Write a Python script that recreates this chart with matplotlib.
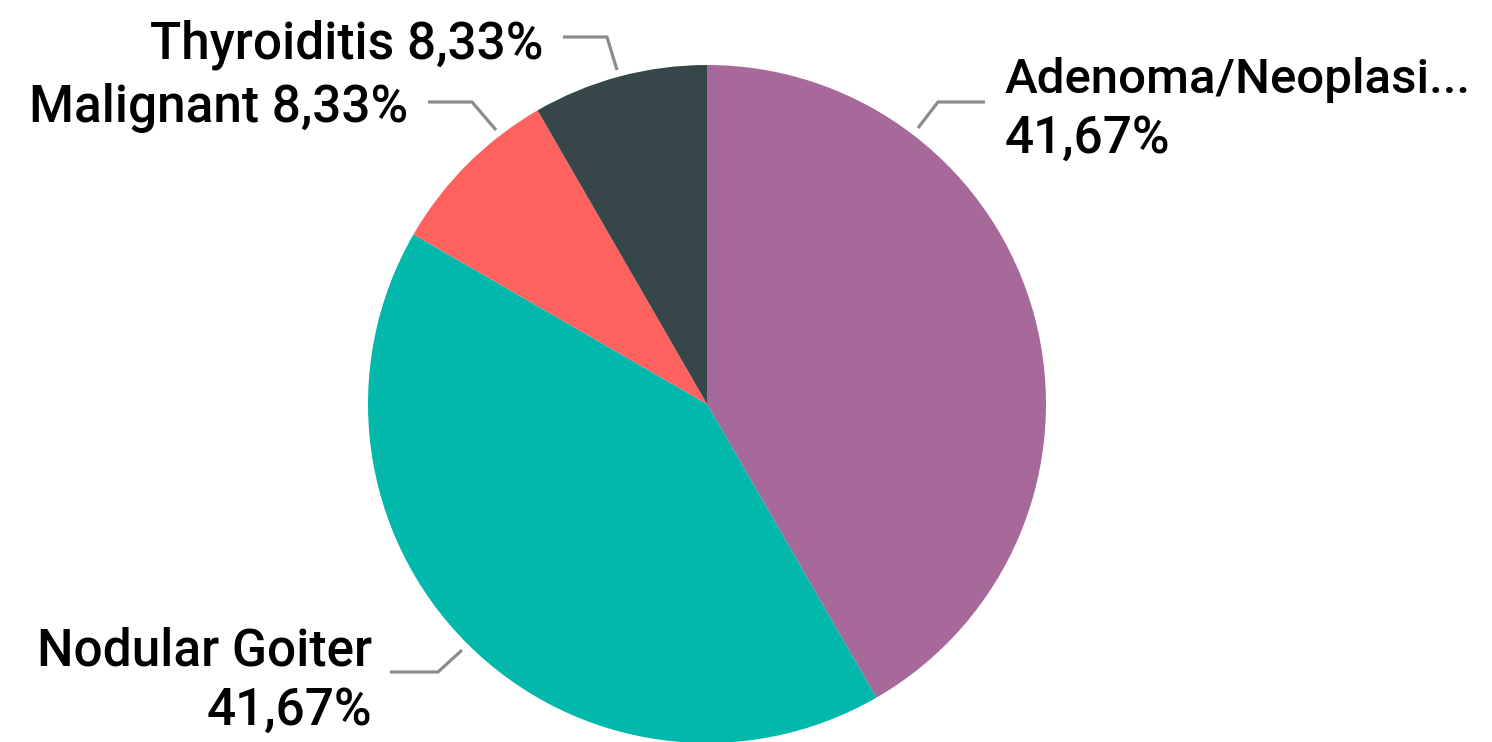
import matplotlib
matplotlib.use("Agg")
import matplotlib.pyplot as plt
import numpy as np

categories = ["Adenoma/Neoplasi...", "Nodular Goiter", "Malignant", "Thyroiditis"]
values = [41.67, 41.67, 8.33, 8.33]
colors = ["#A66999", "#01B8AA", "#FD625E", "#374649"]
pct_labels = ["41,67%", "41,67%", "8,33%", "8,33%"]

W, H = 1492, 742
fig = plt.figure(figsize=(W / 100, H / 100), dpi=100)
ax = fig.add_axes([0, 0, 1, 1])

cx, cy, r = 707, 404, 339
# inverted y axis: counterclock=True with inverted y renders clockwise on screen
ax.pie(values, colors=colors, startangle=-90, counterclock=True,
       center=(cx, cy), radius=r, frame=True,
       wedgeprops=dict(linewidth=0))
ax.set_xlim(0, W)
ax.set_ylim(H, 0)
ax.set_aspect("equal")
ax.axis("off")

fam = ["Roboto", "DejaVu Sans"]
fs = 37
wt = "medium"
lc = "#8C8C8C"
lw = 2.3

# leader lines (pixel coordinates of annotation guides)
leaders = [
    [(918, 128), (938, 102), (985, 102)],
    [(462, 650), (438, 672), (390, 672)],
    [(496, 130), (472, 102), (428, 102)],
    [(617, 70), (607, 37), (563, 37)],
]
for pts in leaders:
    xs, ys = zip(*pts)
    ax.plot(xs, ys, color=lc, lw=lw, solid_capstyle="butt")

ax.text(1005, 93, categories[0], fontsize=35.5, family=fam, weight=wt, ha="left", va="baseline")
ax.text(1005, 153, pct_labels[0], fontsize=fs, family=fam, weight=wt, ha="left", va="baseline")
ax.text(372, 665, categories[1], fontsize=fs, family=fam, weight=wt, ha="right", va="baseline")
ax.text(372, 725, pct_labels[1], fontsize=fs, family=fam, weight=wt, ha="right", va="baseline")
ax.text(408, 122, f"{categories[2]} {pct_labels[2]}", fontsize=fs, family=fam, weight=wt, ha="right", va="baseline")
ax.text(543, 58, f"{categories[3]} {pct_labels[3]}", fontsize=fs, family=fam, weight=wt, ha="right", va="baseline")

fig.savefig("out.png", dpi=100)
